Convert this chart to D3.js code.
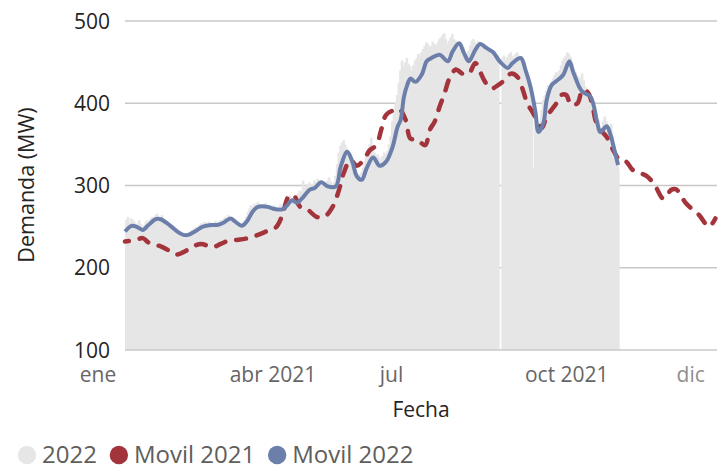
<!DOCTYPE html>
<html>
<head>
<meta charset="utf-8">
<script src="https://cdn.jsdelivr.net/npm/d3@7"></script>
<style>
  html, body { margin: 0; padding: 0; background: #ffffff; }
  svg { display: block; font-family: "Open Sans", "Noto Sans", sans-serif; }
</style>
</head>
<body>
<svg id="chart" width="725" height="467"></svg>
<script>
// Daily demand (MW) for 2022, starting on the first day of the axis year; null = no reading
const seriesStart = "2021-01-01";
const demanda2022 = [
  258, 262, 255, 260, 258, 256, 252, 254, 258, 253,
  250, 252, 256, 258, 255, 260, 262, 258, 264, 266,
  262, 260, 264, 258, 255, 257, 252, 250, 248, 246,
  244, 246, 240, 242, 238, 240, 236, 242, 240, 244,
  242, 246, 248, 250, 248, 252, 254, 250, 256, 255,
  252, 256, 254, 250, 255, 257, 253, 256, 258, 255,
  260, 262, 258, 264, 262, 260, 257, 255, 252, 250,
  254, 252, 256, 258, 262, 268, 272, 276, 274, 278,
  276, 280, 278, 276, 274, 277, 279, 275, 272, 276,
  274, 276, 272, 270, 274, 277, 275, 279, 282, 286,
  284, 288, 282, 285, 288, 284, 290, 294, 292, 306,
  298, 300, 302, 304, 298, 302, 306, 304, 308, 306,
  300, 304, 298, 302, 306, 310, 305, 300, 304, 312,
  326, 340, 348, 352, 355, 350, 345, 338, 332, 328,
  320, 318, 312, 308, 314, 316, 322, 330, 336, 345,
  350, 358, 348, 340, 336, 338, 334, 330, 336, 340,
  338, 342, 350, 360, 378, 390, 400, 410, 425, 440,
  452, 445, 450, 455, 448, 445, 440, 446, 452, 455,
  460, 458, 462, 466, 470, 474, 472, 468, 470, 475,
  472, 470, 474, 478, 480, 483, 485, 478, 472, 476,
  480, 484, 478, 476, 472, 466, 470, 472, 468, 462,
  458, 464, 470, 476, 478, 474, 472, 476, 474, 470,
  468, 472, 470, 466, 462, 466, 464, 460, 456, 458,
  454, null, 455, 458, 452, 456, 460, 462, 458, 455,
  460, 462, 458, 455, 450, 446, 442, 436, 430, 425,
  415, 322, 395, 380, 372, 378, 392, 404, 410, 415,
  422, 418, 426, 430, 434, 438, 436, 440, 446, 452,
  455, 458, 462, 460, 456, 448, 442, 438, 434, 432,
  430, 436, 428, 420, 415, 408, 405, 402, 398, 395,
  388, 380, 372, 366, 378, 384, 378, 372, 368, 375,
  360, 348, 340, 330, 320
];

// Moving average, 2021
const movil2021Dates = [
  "2021-01-01","2021-01-08","2021-01-12","2021-01-16","2021-01-23","2021-01-29","2021-02-02","2021-02-07",
  "2021-02-12","2021-02-17","2021-02-24","2021-03-01","2021-03-06","2021-03-12","2021-03-18","2021-03-24",
  "2021-03-29","2021-04-04","2021-04-08","2021-04-12","2021-04-15","2021-04-19","2021-04-24","2021-04-29",
  "2021-05-04","2021-05-09","2021-05-13","2021-05-16","2021-05-20","2021-05-24","2021-05-28","2021-06-01",
  "2021-06-05","2021-06-08","2021-06-11","2021-06-15","2021-06-19","2021-06-23","2021-06-26","2021-06-30",
  "2021-07-05","2021-07-08","2021-07-11","2021-07-14","2021-07-17","2021-07-20","2021-07-24","2021-07-28",
  "2021-08-01","2021-08-05","2021-08-08","2021-08-11","2021-08-15","2021-08-19","2021-08-23","2021-08-27",
  "2021-08-31","2021-09-03","2021-09-06","2021-09-09","2021-09-12","2021-09-15","2021-09-18","2021-09-21",
  "2021-09-24","2021-09-27","2021-09-30","2021-10-03","2021-10-07","2021-10-10","2021-10-13","2021-10-16",
  "2021-10-18","2021-10-21","2021-10-25","2021-10-29","2021-11-02","2021-11-06","2021-11-10","2021-11-19",
  "2021-11-24","2021-11-29","2021-12-04","2021-12-07","2021-12-13","2021-12-21","2021-12-27","2021-12-31"
];
const movil2021Values = [
  232, 234, 236, 230, 226, 220, 216, 220,
  226, 229, 225, 229, 233, 234, 236, 240,
  244, 249, 264, 287, 288, 274, 270, 262,
  262, 274, 295, 316, 331, 324, 331, 343,
  349, 368, 386, 391, 393, 380, 357, 356,
  349, 368, 378, 396, 412, 430, 441, 436,
  436, 449, 438, 426, 418, 422, 428, 436,
  432, 418, 400, 390, 380, 370, 384, 392,
  400, 410, 410, 398, 400, 416, 414, 400,
  380, 368, 359, 343, 331, 329, 319, 311,
  299, 284, 295, 295, 278, 264, 250, 260
];

// Moving average, 2022
const movil2022Dates = [
  "2021-01-01","2021-01-05","2021-01-08","2021-01-12","2021-01-15","2021-01-20","2021-01-23","2021-01-29",
  "2021-02-03","2021-02-06","2021-02-09","2021-02-13","2021-02-18","2021-02-23","2021-02-27","2021-03-03",
  "2021-03-07","2021-03-10","2021-03-14","2021-03-17","2021-03-21","2021-03-24","2021-03-30","2021-04-02",
  "2021-04-08","2021-04-11","2021-04-14","2021-04-17","2021-04-20","2021-04-25","2021-04-28","2021-05-02",
  "2021-05-06","2021-05-11","2021-05-14","2021-05-18","2021-05-21","2021-05-24","2021-05-27","2021-05-30",
  "2021-06-03","2021-06-07","2021-06-11","2021-06-15","2021-06-18","2021-06-20","2021-06-22","2021-06-24",
  "2021-06-26","2021-06-29","2021-07-03","2021-07-06","2021-07-09","2021-07-14","2021-07-19","2021-07-22",
  "2021-07-26","2021-07-29","2021-08-01","2021-08-05","2021-08-08","2021-08-12","2021-08-16","2021-08-20",
  "2021-08-25","2021-08-28","2021-09-02","2021-09-05","2021-09-08","2021-09-11","2021-09-13","2021-09-16",
  "2021-09-18","2021-09-21","2021-09-24","2021-09-28","2021-10-02","2021-10-04","2021-10-08","2021-10-10",
  "2021-10-15","2021-10-19","2021-10-21","2021-10-25","2021-10-27","2021-10-30","2021-11-01"
];
const movil2022Values = [
  244, 251, 250, 246, 251, 259, 259, 251,
  243, 240, 240, 244, 250, 252, 252, 255,
  260, 256, 251, 256, 269, 274, 274, 272,
  271, 276, 282, 279, 284, 295, 297, 304,
  299, 299, 323, 341, 330, 311, 307, 321,
  334, 324, 329, 347, 371, 380, 408, 422,
  430, 426, 435, 451, 455, 459, 451, 463,
  473, 461, 451, 465, 472, 467, 462, 451,
  443, 449, 455, 440, 420, 390, 365, 376,
  404, 422, 427, 434, 451, 440, 420, 414,
  408, 378, 365, 372, 364, 341, 325
];

const yTicks = [100, 200, 300, 400, 500];
const xTickDates = ["2021-01-01", "2021-04-01", "2021-07-01", "2021-10-01", "2021-12-01"];
const xTickLabels = ["ene", "abr 2021", "jul", "oct 2021", "dic"];
const legendLabels = ["2022", "Movil 2021", "Movil 2022"];

// ---- presentation ----
const colors = { bars: "#e6e6e6", movil2021: "#a4343c", movil2022: "#6b7faa", grid: "#c8c8c8" };
const tickLabelShift = [-27, 2, -27, -1, 24];
const tickLabelColor = ["#666666", "#666666", "#666666", "#666666", "#8f8f8f"];
const dashOn = 10, dashOff = 11;

const parse = d3.timeParse("%Y-%m-%d");
const t0 = parse(seriesStart);
const svg = d3.select("#chart");

const x = d3.scaleTime()
  .domain([t0, d3.timeYear.offset(t0, 1)])
  .range([125, 717]);
const y = d3.scaleLinear().domain([100, 500]).range([350, 21]);

// gridlines (behind bars)
svg.append("g")
  .selectAll("line")
  .data(yTicks.filter(v => v > 100))
  .join("line")
  .attr("x1", x.range()[0]).attr("x2", x.range()[1])
  .attr("y1", d => y(d)).attr("y2", d => y(d))
  .attr("stroke", colors.grid).attr("stroke-width", 1.5);

// daily bars; each bar overlaps its right neighbour slightly so the area reads as solid,
// except where the next day has no reading
const bars = demanda2022.map((v, i) => ({
  date: d3.timeDay.offset(t0, i),
  value: v,
  joined: i + 1 < demanda2022.length && demanda2022[i + 1] != null
})).filter(d => d.value != null);
svg.append("g")
  .selectAll("rect")
  .data(bars)
  .join("rect")
  .attr("x", d => x(d.date))
  .attr("width", d => x(d3.timeDay.offset(d.date, 1)) - x(d.date) + (d.joined ? 1 : 0))
  .attr("y", d => y(d.value))
  .attr("height", d => y(100) - y(d.value))
  .attr("fill", colors.bars);

// baseline
svg.append("line")
  .attr("x1", x.range()[0]).attr("x2", x.range()[1])
  .attr("y1", y(100)).attr("y2", y(100))
  .attr("stroke", colors.grid).attr("stroke-width", 1.5);

// moving-average lines
const line = d3.line()
  .x(d => x(d.date)).y(d => y(d.value))
  .curve(d3.curveCatmullRom.alpha(0.5));

const m21 = movil2021Dates.map((d, i) => ({ date: parse(d), value: movil2021Values[i] }));
const m22 = movil2022Dates.map((d, i) => ({ date: parse(d), value: movil2022Values[i] }));

const redPath = svg.append("path").datum(m21)
  .attr("d", line)
  .attr("fill", "none")
  .attr("stroke", colors.movil2021)
  .attr("stroke-width", 4.5)
  .attr("stroke-dasharray", dashOn + "," + dashOff)
  .attr("stroke-linecap", "round");
// shift the dash pattern so the line finishes on a dash
const redLen = redPath.node().getTotalLength();
const period = dashOn + dashOff;
redPath.attr("stroke-dashoffset", ((dashOn - 1 - (redLen % period)) % period + period) % period);

svg.append("path").datum(m22)
  .attr("d", line)
  .attr("fill", "none")
  .attr("stroke", colors.movil2022)
  .attr("stroke-width", 4)
  .attr("stroke-linejoin", "round");

// y axis labels
svg.append("g")
  .selectAll("text")
  .data(yTicks)
  .join("text")
  .attr("x", 110).attr("y", d => y(d) + 7.5)
  .attr("text-anchor", "end")
  .attr("font-size", 21)
  .attr("fill", "#252423")
  .text(d => d);

// x axis labels
svg.append("g")
  .selectAll("text")
  .data(xTickDates)
  .join("text")
  .attr("x", (d, i) => x(parse(d)) + tickLabelShift[i])
  .attr("y", 382)
  .attr("text-anchor", "middle")
  .attr("font-size", 21)
  .attr("fill", (d, i) => tickLabelColor[i])
  .text((d, i) => xTickLabels[i]);

// axis titles
svg.append("text")
  .attr("x", 421).attr("y", 417)
  .attr("text-anchor", "middle")
  .attr("font-size", 21)
  .attr("fill", "#252423")
  .text("Fecha");

svg.append("text")
  .attr("transform", "translate(34,185) rotate(-90)")
  .attr("text-anchor", "middle")
  .attr("font-size", 21.5)
  .attr("fill", "#252423")
  .text("Demanda (MW)");

// legend
const legendColors = [colors.bars, colors.movil2021, colors.movil2022];
let cx = 27;
legendLabels.forEach((label, i) => {
  svg.append("circle")
    .attr("cx", cx).attr("cy", 455).attr("r", 9.2)
    .attr("fill", legendColors[i]);
  const t = svg.append("text")
    .attr("x", cx + 15).attr("y", 463)
    .attr("font-size", 24)
    .attr("fill", "#605e5c")
    .text(label);
  cx = cx + 15 + t.node().getComputedTextLength() + 22;
});
</script>
</body>
</html>
